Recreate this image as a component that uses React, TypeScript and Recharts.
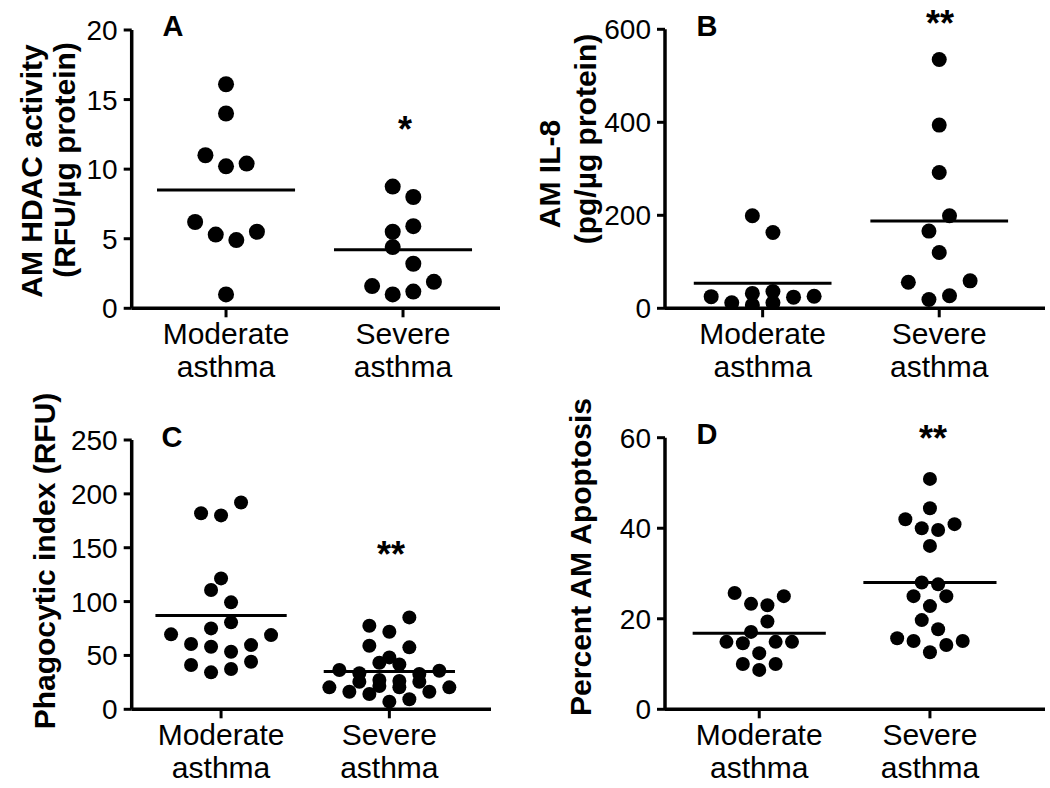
import React from 'react';
import { ScatterChart, Scatter, XAxis, YAxis, ReferenceLine } from 'recharts';

// ---------- data ----------
const categories = ['Moderate', 'Severe'];
const categorySub = 'asthma';

// Panel A: AM HDAC activity (RFU/µg protein)
const hdacTicks = [0, 5, 10, 15, 20];
const hdacModerate = [16.1, 14.0, 11.0, 10.2, 10.4, 6.2, 5.3, 4.9, 5.5, 1.0];
const hdacSevere = [8.75, 8.0, 5.5, 5.9, 4.4, 3.2, 1.6, 1.0, 1.2, 1.9];
const hdacMeans = [8.5, 4.2];

// Panel B: AM IL-8 (pg/µg protein)
const il8Ticks = [0, 200, 400, 600];
const il8Moderate = [199, 163, 25, 12, 32, 7, 36, 12, 24, 26];
const il8Severe = [535, 394, 292, 199, 166, 120, 56, 59, 19, 27];
const il8Means = [54, 188];

// Panel C: Phagocytic index (RFU)
const phagoTicks = [0, 50, 100, 150, 200, 250];
const phagoModerate = [182, 180, 192, 121.5, 110.7, 99.3, 80.7, 69.6, 75.1, 68.9, 60.6, 58.1, 53.4, 59.6, 41.1, 34.3, 37.4, 44.2];
const phagoSevere = [85.3, 77.6, 72.0, 59.0, 57.5, 48.2, 43.2, 41.7, 36.5, 35.8, 33.4, 32.8, 20.4, 16.3, 25.6, 14.2, 27.2, 21.6, 26.3, 20.4, 25.6, 16.3, 20.4, 7.1, 9.3];
const phagoMeans = [87, 35];

// Panel D: Percent AM Apoptosis
const apoTicks = [0, 20, 40, 60];
const apoModerate = [25.7, 25.0, 23.3, 23.0, 19.4, 17.1, 14.9, 14.6, 14.9, 14.9, 12.4, 10.0, 10.0, 8.7];
const apoSevere = [50.9, 44.4, 42.0, 40.9, 40.0, 39.6, 36.1, 28.0, 27.6, 25.0, 25.0, 22.8, 19.7, 17.7, 15.7, 15.1, 15.1, 14.2, 12.6];
const apoMeans = [16.8, 28.0];

// beeswarm column slots (layout of the dot swarm, one per point)
const hdacModerateSlots = [0, 0, -2, 0, 2, -3, -1, 1, 3, 0];
const hdacSevereSlots = [-1, 1, -1, 1, -1, 1, -3, -1, 1, 3];
const il8ModerateSlots = [-1, 1, -5, -3, -1, -1, 1, 1, 3, 5];
const il8SevereSlots = [0, 0, 0, 1, -1, 0, -3, 3, -1, 1];
const phagoModerateSlots = [-2, 0, 2, 0, -1, 1, 1, -5, -1, 5, -3, -1, 1, 3, -3, -1, 1, 3];
const phagoSevereSlots = [2, -2, 0, -2, 2, 0, -1, 1, -5, 5, -3, 3, -6, -4, -3, -2, -1, -1, 1, 1, 3, 4, 6, 0, 2];
const apoModerateSlots = [-3, 3, -1, 1, 1, -1, -4, -2, 2, 4, 0, -2, 2, 0];
const apoSevereSlots = [0, 0, -3, 3, -1, 1, 0, -1, 1, -2, 2, 0, -1, 1, -4, -2, 4, 2, 0];

// ---------- styling ----------
const FONT = '"Liberation Sans", Arial, Helvetica, sans-serif';
const TICK_FS = 28;
const CAT_FS = 30;
const YW = 60;
const XH = 70;

type Cfg = {
  key: string;
  box: { left: number; top: number; width: number; height: number };
  plot: { left: number; top: number; right: number; bottom: number };
  xDomain: [number, number];
  yMax: number;
  yTicks: number[];
  moderate: number[];
  severe: number[];
  modSlots: number[];
  sevSlots: number[];
  means: number[];
  step: number;
  r: number;
};

const panels: Cfg[] = [
  {
    key: 'A',
    box: { left: 0, top: 0, width: 520, height: 390 },
    plot: { left: 131.7, top: 30, right: 500, bottom: 308.3 },
    xDomain: [0.467, 2.548],
    yMax: 20,
    yTicks: hdacTicks,
    moderate: hdacModerate,
    severe: hdacSevere,
    modSlots: hdacModerateSlots,
    sevSlots: hdacSevereSlots,
    means: hdacMeans,
    step: 0.0582,
    r: 8,
  },
  {
    key: 'B',
    box: { left: 520, top: 0, width: 530, height: 390 },
    plot: { left: 665, top: 29.3, right: 1045, bottom: 308.3 },
    xDomain: [0.447, 2.599],
    yMax: 600,
    yTicks: il8Ticks,
    moderate: il8Moderate,
    severe: il8Severe,
    modSlots: il8ModerateSlots,
    sevSlots: il8SevereSlots,
    means: il8Means,
    step: 0.0583,
    r: 7.5,
  },
  {
    key: 'C',
    box: { left: 0, top: 390, width: 520, height: 398 },
    plot: { left: 131.7, top: 440, right: 491, bottom: 709.3 },
    xDomain: [0.469, 2.604],
    yMax: 250,
    yTicks: phagoTicks,
    moderate: phagoModerate,
    severe: phagoSevere,
    modSlots: phagoModerateSlots,
    sevSlots: phagoSevereSlots,
    means: phagoMeans,
    step: 0.0594,
    r: 7,
  },
  {
    key: 'D',
    box: { left: 520, top: 390, width: 530, height: 398 },
    plot: { left: 665, top: 437.7, right: 1045, bottom: 709.3 },
    xDomain: [0.448, 2.674],
    yMax: 60,
    yTicks: apoTicks,
    moderate: apoModerate,
    severe: apoSevere,
    modSlots: apoModerateSlots,
    sevSlots: apoSevereSlots,
    means: apoMeans,
    step: 0.048,
    r: 7,
  },
];

const CatTick = (props: any) => {
  const { x, y, payload } = props;
  const i = Math.round(payload.value) - 1;
  return (
    <g>
      <text x={x} y={y + 25} textAnchor="middle" fontSize={CAT_FS} fontFamily={FONT} fill="#000">
        {categories[i]}
      </text>
      <text x={x} y={y + 58} textAnchor="middle" fontSize={CAT_FS} fontFamily={FONT} fill="#000">
        {categorySub}
      </text>
    </g>
  );
};

function Panel({ cfg }: { cfg: Cfg }) {
  const { box, plot } = cfg;
  const margin = {
    left: plot.left - box.left - YW,
    top: plot.top - box.top,
    right: box.left + box.width - plot.right,
    bottom: box.top + box.height - plot.bottom - XH,
  };
  const modData = cfg.moderate.map((v, i) => ({ x: 1 + cfg.modSlots[i] * cfg.step, y: v }));
  const sevData = cfg.severe.map((v, i) => ({ x: 2 + cfg.sevSlots[i] * cfg.step, y: v }));
  const hw = 0.39;
  const dot = (p: any) => <circle cx={p.cx} cy={p.cy} r={cfg.r} fill="#000" />;
  return (
    <div style={{ position: 'absolute', left: box.left, top: box.top, width: box.width, height: box.height }}>
      <ScatterChart width={box.width} height={box.height} margin={margin}>
        <XAxis
          type="number"
          dataKey="x"
          domain={cfg.xDomain}
          ticks={[1, 2]}
          allowDataOverflow
          height={XH}
          tickSize={9}
          tickMargin={2}
          axisLine={{ stroke: '#000', strokeWidth: 3.5 }}
          tickLine={{ stroke: '#000', strokeWidth: 3 }}
          tick={<CatTick />}
          interval={0}
        />
        <YAxis
          type="number"
          dataKey="y"
          domain={[0, cfg.yMax]}
          ticks={cfg.yTicks}
          allowDataOverflow
          width={YW}
          tickSize={8}
          tickMargin={6}
          axisLine={{ stroke: '#000', strokeWidth: 3.5 }}
          tickLine={{ stroke: '#000', strokeWidth: 3 }}
          tick={{ fill: '#000', fontSize: TICK_FS, fontFamily: FONT }}
          interval={0}
        />
        <Scatter data={modData} fill="#000" shape={dot} isAnimationActive={false} />
        <Scatter data={sevData} fill="#000" shape={dot} isAnimationActive={false} />
        <ReferenceLine
          segment={[{ x: 1 - hw, y: cfg.means[0] }, { x: 1 + hw, y: cfg.means[0] }]}
          stroke="#000"
          strokeWidth={3}
          ifOverflow="visible"
        />
        <ReferenceLine
          segment={[{ x: 2 - hw, y: cfg.means[1] }, { x: 2 + hw, y: cfg.means[1] }]}
          stroke="#000"
          strokeWidth={3}
          ifOverflow="visible"
        />
      </ScatterChart>
    </div>
  );
}

const VText = ({ x, y, text, fs }: { x: number; y: number; text: string; fs: number }) => (
  <text
    x={x}
    y={y}
    transform={`rotate(-90 ${x} ${y})`}
    textAnchor="middle"
    dominantBaseline="central"
    fontSize={fs}
    fontWeight="bold"
    fontFamily={FONT}
    fill="#000"
  >
    {text}
  </text>
);

const Label = ({ x, y, text, fs, bold }: { x: number; y: number; text: string; fs: number; bold?: boolean }) => (
  <text x={x} y={y} textAnchor="middle" fontSize={fs} fontWeight={bold ? 'bold' : 'normal'} fontFamily={FONT} fill="#000">
    {text}
  </text>
);

export default function App() {
  return (
    <div style={{ position: 'absolute', left: 0, top: 0, width: 1050, height: 788, background: '#fff', overflow: 'hidden' }}>
      {panels.map((p) => (
        <Panel key={p.key} cfg={p} />
      ))}
      <svg width={1050} height={788} style={{ position: 'absolute', left: 0, top: 0, pointerEvents: 'none' }}>
        <VText x={31} y={171} text="AM HDAC activity" fs={30} />
        <VText x={64} y={160} text="(RFU/µg protein)" fs={30} />
        <VText x={549} y={174} text="AM IL-8" fs={30} />
        <VText x={585} y={139} text="(pg/µg protein)" fs={30} />
        <VText x={44} y={561} text="Phagocytic index (RFU)" fs={30} />
        <VText x={580} y={557} text="Percent AM Apoptosis" fs={30} />

        <Label x={173} y={36} text="A" fs={29} bold />
        <Label x={707} y={36} text="B" fs={29} bold />
        <Label x={172} y={447} text="C" fs={29} bold />
        <Label x={707} y={444} text="D" fs={29} bold />

        <Label x={405} y={142} text="*" fs={36} bold />
        <Label x={940} y={36} text="**" fs={36} bold />
        <Label x={391} y={567} text="**" fs={36} bold />
        <Label x={933} y={451} text="**" fs={36} bold />
      </svg>
    </div>
  );
}
